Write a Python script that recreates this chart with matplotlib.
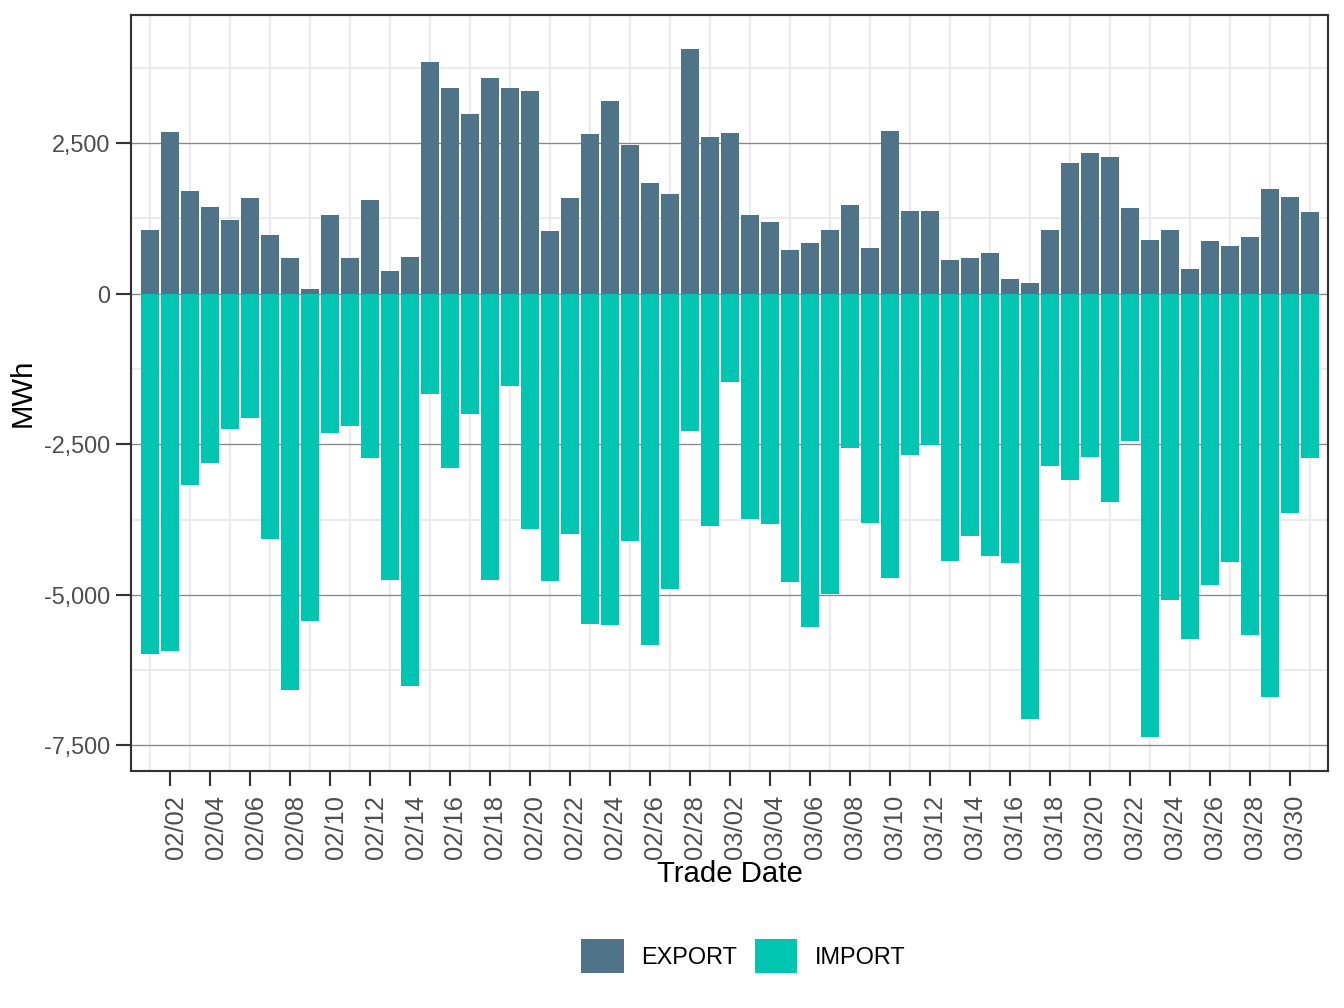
import matplotlib.pyplot as plt
import matplotlib.dates as mdates
import matplotlib.transforms as mtransforms
from matplotlib.ticker import FixedLocator, FuncFormatter
from matplotlib.patches import Patch
import pandas as pd

plt.rcParams['font.family'] = ['Liberation Sans', 'DejaVu Sans']

trade_dates = pd.date_range('2023-02-01', '2023-03-31', freq='D')

export_mwh = [
    1060, 2680, 1710, 1440, 1225, 1590, 975, 595, 85, 1310,
    595, 1555, 380, 615, 3840, 3410, 2980, 3575, 3410, 3360,
    1045, 1590, 2650, 3195, 2465, 1840, 1655, 4055, 2600, 2665,
    1310, 1190, 730, 845, 1060, 1475, 760, 2700, 1375, 1375,
    565, 595, 680, 250, 180, 1060, 2170, 2335, 2270, 1425,
    895, 1060, 415, 880, 795, 945, 1740, 1605, 1360,
]
import_mwh = [
    -5980, -5930, -3180, -2815, -2250, -2070, -4075, -6575, -5430, -2320,
    -2200, -2730, -4755, -6510, -1670, -2900, -2005, -4755, -1540, -3910,
    -4770, -3990, -5480, -5500, -4105, -5830, -4900, -2285, -3860, -1475,
    -3740, -3825, -4785, -5530, -4985, -2565, -3810, -4720, -2685, -2515,
    -4440, -4025, -4355, -4470, -7055, -2865, -3095, -2715, -3460, -2450,
    -7355, -5085, -5730, -4835, -4455, -5665, -6690, -3645, -2730,
]

export_color = '#4F7489'
import_color = '#00C6B1'

fig = plt.figure(figsize=(7, 5.25), dpi=192)
ax = fig.add_axes([0.0975, 0.2351, 0.8905, 0.75])

ax.bar(trade_dates, export_mwh, width=0.9, color=export_color, zorder=2)
ax.bar(trade_dates, import_mwh, width=0.9, color=import_color, zorder=2)

# y range with ggplot style 5% expansion
lo = min(import_mwh)
hi = max(export_mwh)
pad = (hi - lo) * 0.05
ax.set_ylim(lo - pad, hi + pad)
ax.set_xlim(trade_dates[0] - pd.Timedelta(hours=22.8), trade_dates[-1] + pd.Timedelta(hours=21.6))

# ticks
ax.xaxis.set_major_locator(FixedLocator(mdates.date2num(trade_dates[1::2])))
ax.xaxis.set_major_formatter(mdates.DateFormatter('%m/%d'))
ax.xaxis.set_minor_locator(FixedLocator(mdates.date2num(trade_dates[0::2])))
ax.yaxis.set_major_locator(FixedLocator([-7500, -5000, -2500, 0, 2500]))
ax.yaxis.set_minor_locator(FixedLocator([-6250, -3750, -1250, 1250, 3750]))
ax.yaxis.set_major_formatter(FuncFormatter(lambda v, p: f'{int(v):,}'))

ax.tick_params(axis='both', which='major', length=5.5, width=0.8, color='#333333',
               labelcolor='#4D4D4D', labelsize=8.8, pad=2.2)
ax.tick_params(axis='x', which='major', labelsize=9.6, pad=3.5)
ax.tick_params(axis='both', which='minor', length=0)

# rotated date labels sit a bit right of their tick, like the original
shift = mtransforms.ScaledTranslation(5.5 / 192, 0, fig.dpi_scale_trans)
for lab in ax.get_xticklabels():
    lab.set_rotation(90)
    lab.set_transform(lab.get_transform() + shift)

# grid
ax.set_axisbelow(True)
ax.grid(False)
ax.xaxis.grid(True, which='minor', color='#EBEBEB', linewidth=0.8)
ax.yaxis.grid(True, which='minor', color='#EBEBEB', linewidth=0.8)
ax.yaxis.grid(True, which='major', color='#888888', linewidth=0.5)

for s in ax.spines.values():
    s.set_color('#333333')
    s.set_linewidth(0.8)

ax.set_xlabel('Trade Date', fontsize=11, color='black', labelpad=0.2)
ax.set_ylabel('MWh', fontsize=11, color='black', labelpad=3)

handles = [Patch(facecolor=export_color, label='EXPORT'),
           Patch(facecolor=import_color, label='IMPORT')]
fig.legend(handles=handles, loc='center', bbox_to_anchor=(0.553, 0.0516), ncol=2,
           frameon=False, fontsize=8.8, handlelength=1.8, handleheight=1.8,
           handletextpad=0.75, columnspacing=0.75, borderpad=0)

fig.savefig('out.png', dpi=192)
